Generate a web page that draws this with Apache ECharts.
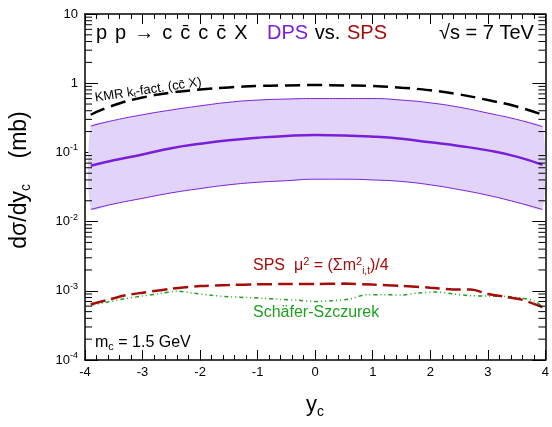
<!DOCTYPE html>
<html>
<head>
<meta charset="utf-8">
<script src="https://cdn.jsdelivr.net/npm/echarts@6/dist/echarts.min.js"></script>
<style>
html, body { margin: 0; padding: 0; background: #fff; }
#chart { width: 552px; height: 427px; }
</style>
</head>
<body>
<div id="chart"></div>
<script>
// rapidity grid for the smooth curves
const yc = [-3.9, -3.5, -3, -2.5, -2, -1.5, -1, -0.5, 0, 0.5, 1, 1.5, 2, 2.5, 3, 3.5, 3.95];
// KMR kt-fact. (c cbar X), black dashed
const kmr = [0.35, 0.48, 0.62, 0.73, 0.81, 0.87, 0.91, 0.93, 0.94, 0.93, 0.91, 0.86, 0.79, 0.69, 0.57, 0.46, 0.35];
// DPS KMR kt-fact.: central line and band
const dpsMid = [0.064, 0.077, 0.093, 0.115, 0.133, 0.150, 0.163, 0.173, 0.178, 0.176, 0.169, 0.157, 0.140, 0.124, 0.107, 0.087, 0.066];
const dpsUp = [0.24, 0.29, 0.35, 0.41, 0.47, 0.53, 0.57, 0.59, 0.60, 0.60, 0.60, 0.57, 0.52, 0.45, 0.37, 0.30, 0.235];
const dpsLow = [0.015, 0.018, 0.0217, 0.026, 0.030, 0.034, 0.037, 0.039, 0.041, 0.041, 0.040, 0.038, 0.034, 0.029, 0.024, 0.019, 0.015];
// SPS mu^2 = (sum m_it^2)/4, red dashed
const spsX = [-3.9, -3.6, -3.3, -3.0, -2.5, -2.0, -1.5, -1.0, -0.5, 0, 0.5, 1.0, 1.5, 2.0, 2.5, 2.7, 3.0, 3.3, 3.6, 3.95];
const spsY = [0.00064, 0.00074, 0.00086, 0.00094, 0.00107, 0.00117, 0.00121, 0.00124, 0.00125, 0.00125, 0.00127, 0.00123, 0.00118, 0.00111, 0.00104, 0.00104, 0.00090, 0.00082, 0.00074, 0.00058];
// Schafer-Szczurek, green dash-dot-dot
const ssX = [-3.9, -3.6, -3.3, -3.0, -2.7, -2.4, -2.1, -1.8, -1.5, -1.2, -0.9, -0.6, -0.3, 0.0, 0.3, 0.6, 0.9, 1.2, 1.5, 1.8, 2.1, 2.4, 2.7, 3.0, 3.3, 3.6, 3.8, 3.95];
const ssY = [0.00062, 0.00069, 0.00077, 0.00084, 0.00091, 0.00099, 0.00092, 0.00086, 0.00082, 0.00080, 0.00078, 0.00075, 0.00073, 0.00070, 0.00072, 0.00076, 0.00088, 0.00088, 0.00087, 0.00093, 0.00096, 0.00090, 0.00085, 0.00084, 0.00083, 0.00078, 0.00072, 0.00059];

// log minor ticks 2..9 per decade
const minorY = [];
for (let e = -4; e < 1; e++) {
  for (let m = 2; m <= 9; m++) minorY.push(m * Math.pow(10, e));
}

const FONT = '"Liberation Sans", Arial, sans-serif';
const purple = '#7a1fd9';
const red = '#a50d0d';
const green = '#1f9f1f';

const pair = (xs, ys) => xs.map((x, i) => [x, ys[i]]);

const chart = echarts.init(document.getElementById('chart'));

const axisLine = {show: true, onZero: false, lineStyle: {color: '#000', width: 1.5}};
const tick = {inside: true, length: 10, lineStyle: {color: '#000', width: 1}};
const minor = {show: true, splitNumber: 5, length: 5, lineStyle: {color: '#000', width: 1}};

const option = {
  backgroundColor: '#fff',
  animation: false,
  grid: {left: 85, right: 0, top: 14, bottom: 67},
  xAxis: [
    {
      type: 'value', min: -4, max: 4, interval: 1,
      axisLine: axisLine, axisTick: tick, minorTick: minor,
      splitLine: {show: false},
      axisLabel: {color: '#000', fontSize: 13, fontFamily: FONT, margin: 6},
    },
    {
      type: 'value', min: -4, max: 4, interval: 1, position: 'top',
      axisLine: axisLine, axisTick: tick, minorTick: minor,
      splitLine: {show: false},
      axisLabel: {show: false},
    }
  ],
  yAxis: [
    {
      type: 'log', min: 1e-4, max: 10, logBase: 10, splitNumber: 5,
      axisLine: axisLine,
      axisTick: {inside: true, length: 13, lineStyle: {color: '#000', width: 1}},
      splitLine: {show: false},
      axisLabel: {
        margin: 7,
        fontFamily: FONT,
        formatter: function (v) {
          const e = Math.round(Math.log10(v));
          if (e === 1) return '{b|10}';
          if (e === 0) return '{b|1}';
          return '{b|10}{s|' + e + '}';
        },
        rich: {
          b: {fontSize: 13, color: '#000', fontFamily: FONT},
          s: {fontSize: 9, color: '#000', fontFamily: FONT, padding: [0, 0, 9, 0]}
        }
      }
    },
    {
      type: 'log', min: 1e-4, max: 10, logBase: 10, splitNumber: 5, position: 'right',
      axisLine: axisLine,
      axisTick: {inside: true, length: 13, lineStyle: {color: '#000', width: 1}},
      splitLine: {show: false},
      axisLabel: {show: false}
    }
  ],
  series: [
    {
      // DPS uncertainty band
      type: 'custom',
      silent: true,
      data: [0],
      z: 1,
      renderItem: function (params, api) {
        const pts = [];
        yc.forEach((x, i) => pts.push(api.coord([x, dpsUp[i]])));
        for (let i = yc.length - 1; i >= 0; i--) pts.push(api.coord([yc[i], dpsLow[i]]));
        return {type: 'polygon', shape: {points: pts, smooth: 0.2}, style: {fill: '#e2d4f8', stroke: null}};
      }
    },
    {
      // minor log ticks, left and right frame
      type: 'custom',
      silent: true,
      clip: false,
      data: minorY.map(v => [v]),
      z: 5,
      renderItem: function (params, api) {
        const v = api.value(0);
        const l = api.coord([-4, v]);
        const r = api.coord([4, v]);
        const st = {stroke: '#000', lineWidth: 1};
        return {
          type: 'group',
          children: [
            {type: 'line', shape: {x1: l[0], y1: l[1], x2: l[0] + 7, y2: l[1]}, style: st},
            {type: 'line', shape: {x1: r[0], y1: r[1], x2: r[0] - 7, y2: r[1]}, style: st}
          ]
        };
      }
    },
    {
      name: 'DPS up', type: 'line', data: pair(yc, dpsUp), smooth: true, showSymbol: false,
      lineStyle: {color: purple, width: 1}, z: 3
    },
    {
      name: 'DPS low', type: 'line', data: pair(yc, dpsLow), smooth: true, showSymbol: false,
      lineStyle: {color: purple, width: 1}, z: 3
    },
    {
      name: 'DPS', type: 'line', data: pair(yc, dpsMid), smooth: true, showSymbol: false,
      lineStyle: {color: purple, width: 2.5}, z: 4
    },
    {
      name: 'KMR', type: 'line', data: pair(yc, kmr), smooth: true, showSymbol: false,
      lineStyle: {color: '#000', width: 2.5, type: [15, 7]}, z: 4
    },
    {
      name: 'Schafer-Szczurek', type: 'line', data: pair(ssX, ssY), smooth: 0.3, showSymbol: false,
      lineStyle: {color: green, width: 1.5, type: [4, 3, 1, 3, 1, 3]}, z: 3
    },
    {
      name: 'SPS', type: 'line', data: pair(spsX, spsY), smooth: 0.3, showSymbol: false,
      lineStyle: {color: red, width: 2.5, type: [15, 6]}, z: 4
    }
  ],
  graphic: [
    {
      type: 'text', x: 96, y: 33,
      style: {
        text: '{g|p}{g|p}{a|\u2192}{g|c}{g|c\u0304}{g|c}{g|c\u0304}{g|X}', verticalAlign: 'middle',
        rich: {
          g: {fontSize: 20, fontFamily: FONT, fill: '#000', padding: [0, 8, 0, 0]},
          a: {fontSize: 20, fontFamily: FONT, fill: '#000', padding: [0, 8, 0, 0]}
        }
      }
    },
    {
      type: 'text', x: 267, y: 33,
      style: {
        text: '{p|DPS}  {k|vs.}  {r|SPS}', verticalAlign: 'middle',
        rich: {
          p: {fontSize: 20, fontFamily: FONT, fill: purple},
          k: {fontSize: 20, fontFamily: FONT, fill: '#000'},
          r: {fontSize: 20, fontFamily: FONT, fill: red}
        }
      }
    },
    {
      type: 'text', x: 439, y: 33,
      style: {text: '\u221As = 7 TeV', fontSize: 20, fontFamily: FONT, fill: '#000', verticalAlign: 'middle'}
    },
    {
      type: 'text', x: 96, y: 105, rotation: 0.15,
      style: {
        text: '{a|KMR k}{s|t}{a|-fact. (cc\u0304 X)}', verticalAlign: 'bottom',
        rich: {
          a: {fontSize: 13, fontFamily: FONT, fill: '#000'},
          s: {fontSize: 8, fontFamily: FONT, fill: '#000', padding: [6, 0, 0, 0]}
        }
      }
    },
    {
      type: 'text', x: 248, y: 126,
      style: {
        text: '{a|DPS KMR k}{s|t}{a|-fact.}', verticalAlign: 'middle',
        rich: {
          a: {fontSize: 16, fontFamily: FONT, fill: purple},
          s: {fontSize: 10, fontFamily: FONT, fill: purple, padding: [9, 0, 0, 0]}
        }
      }
    },
    {
      type: 'text', x: 253, y: 266,
      style: {
        text: '{a|SPS  \u03BC}{u|2}{a| = (\u03A3m}{u|2}{d|i,t}{a|)/4}', verticalAlign: 'middle',
        rich: {
          a: {fontSize: 16, fontFamily: FONT, fill: red},
          u: {fontSize: 11, fontFamily: FONT, fill: red, padding: [0, 0, 9, 0]},
          d: {fontSize: 10, fontFamily: FONT, fill: red, padding: [11, 0, 0, 0]}
        }
      }
    },
    {
      type: 'text', x: 253, y: 313,
      style: {text: 'Sch\u00E4fer-Szczurek', fontSize: 16, fontFamily: FONT, fill: green, verticalAlign: 'middle'}
    },
    {
      type: 'text', x: 95, y: 343,
      style: {
        text: '{a|m}{s|c}{a| = 1.5 GeV}', verticalAlign: 'middle',
        rich: {
          a: {fontSize: 16, fontFamily: FONT, fill: '#000'},
          s: {fontSize: 11, fontFamily: FONT, fill: '#000', padding: [8, 0, 0, 0]}
        }
      }
    },
    {
      type: 'text', x: 20, y: 180, rotation: Math.PI / 2,
      style: {
        text: '{a|d\u03C3/dy}{s|c}{a|    (mb)}', align: 'center', verticalAlign: 'middle',
        rich: {
          a: {fontSize: 23, fontFamily: FONT, fill: '#000'},
          s: {fontSize: 14, fontFamily: FONT, fill: '#000', padding: [12, 0, 0, 0]}
        }
      }
    },
    {
      type: 'text', x: 306, y: 405,
      style: {
        text: '{a|y}{s|c}', verticalAlign: 'middle',
        rich: {
          a: {fontSize: 22, fontFamily: FONT, fill: '#000'},
          s: {fontSize: 14, fontFamily: FONT, fill: '#000', padding: [14, 0, 0, 0]}
        }
      }
    }
  ]
};

chart.setOption(option);
</script>
</body>
</html>
